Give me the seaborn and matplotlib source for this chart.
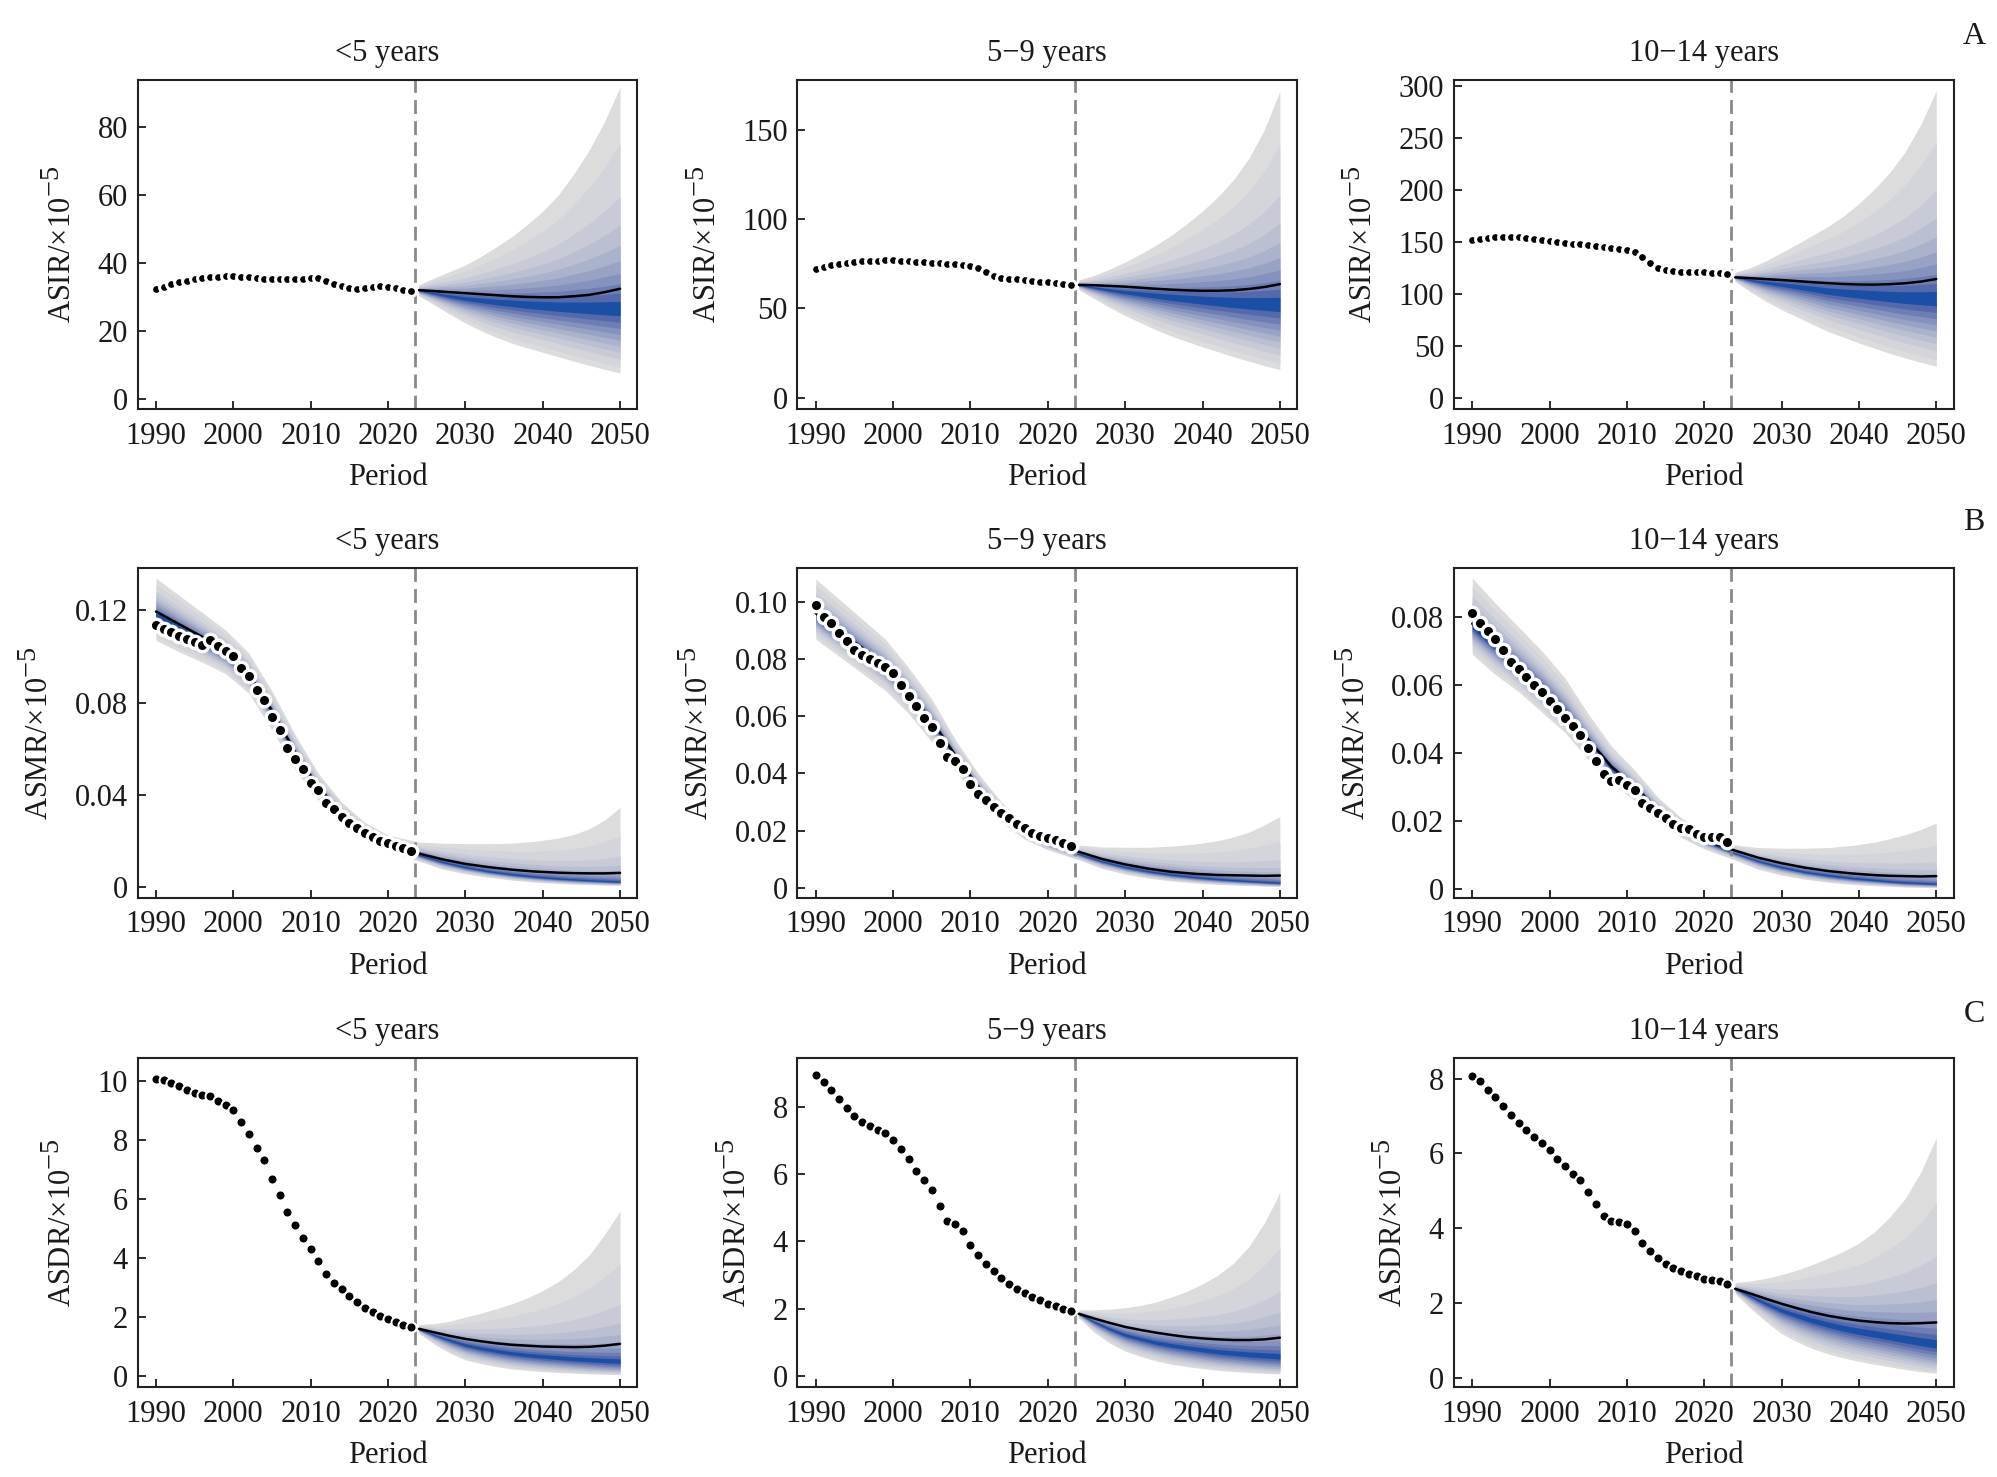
import numpy as np
import pandas as pd
import matplotlib
matplotlib.use("Agg")
import matplotlib.pyplot as plt
import seaborn as sns

try:
    import matplotlib._mathtext as _mt
    _mt.SHRINK_FACTOR = 0.93
except Exception:
    pass

# ---------------- data ----------------
hist_years = list(range(1990, 2024))
fc_years = [2024, 2026, 2028, 2030, 2032, 2034, 2036, 2038, 2040, 2042, 2044, 2046, 2048, 2050]
b_years = [1990, 1993, 1996, 1999, 2002, 2005, 2008, 2011, 2014, 2017, 2020,
           2024, 2027, 2030, 2033, 2036, 2039, 2042, 2044, 2046, 2048, 2050]

age_groups = ["<5 years", "5\u22129 years", "10\u221214 years"]
row_letters = ["A", "B", "C"]
row_measures = ["ASIR", "ASMR", "ASDR"]

# Row A: ASIR
asir_hist_u5 = [32.1, 32.9, 33.6, 34.2, 34.7, 35.1, 35.4, 35.7, 35.9, 36.0, 36.1, 35.9, 35.7, 35.5,
                35.3, 35.2, 35.1, 35.1, 35.2, 35.3, 35.4, 35.6, 34.7, 33.6, 33.0, 32.5, 32.2, 32.6,
                32.9, 33.0, 32.8, 32.4, 32.0, 31.7]
asir_hist_5_9 = [72.0, 73.2, 74.1, 74.8, 75.4, 75.9, 76.3, 76.6, 76.8, 76.9, 77.0, 76.8, 76.5, 76.2,
                 75.9, 75.6, 75.3, 75.0, 74.7, 74.3, 73.8, 72.8, 70.6, 68.4, 67.2, 66.6, 66.2, 65.8,
                 65.4, 65.0, 64.6, 64.1, 63.7, 63.2]
asir_hist_10_14 = [152.0, 153.0, 154.0, 154.6, 155.0, 155.0, 154.5, 153.8, 153.0, 152.0, 151.0, 150.0,
                   149.2, 148.5, 147.8, 147.0, 146.3, 145.5, 144.7, 143.8, 142.5, 140.2, 136.0, 130.0,
                   125.5, 123.0, 122.0, 121.5, 121.2, 121.0, 120.8, 120.5, 120.2, 119.5]

asir_mean_u5 = [31.9, 31.6, 31.3, 31.0, 30.7, 30.4, 30.1, 29.9, 29.8, 29.8, 30.1, 30.5, 31.3, 32.3]
asir_med_u5 = [31.8, 30.9, 30.1, 29.4, 28.9, 28.4, 28.0, 27.6, 27.3, 27.0, 26.8, 26.6, 26.5, 26.4]
asir_hi_u5 = [33.5, 35.5, 37.4, 39.3, 41.8, 44.6, 47.6, 51.2, 55.1, 59.8, 66.0, 73.0, 81.5, 91.6]
asir_lo_u5 = [30.2, 27.5, 24.8, 22.2, 20.0, 18.0, 16.3, 14.9, 13.6, 12.3, 11.0, 9.8, 8.6, 7.5]

asir_mean_5_9 = [63.2, 63.0, 62.6, 62.2, 61.6, 61.0, 60.5, 60.1, 59.9, 59.9, 60.2, 60.9, 62.0, 63.6]
asir_med_5_9 = [63.2, 61.7, 60.3, 59.1, 58.1, 57.1, 56.2, 55.4, 54.6, 53.9, 53.3, 52.8, 52.4, 52.1]
asir_hi_5_9 = [66.0, 68.5, 72.0, 76.0, 80.5, 85.5, 91.0, 97.5, 104.5, 112.5, 122.0, 134.0, 150.0, 171.6]
asir_lo_5_9 = [60.5, 55.5, 50.5, 46.0, 42.0, 38.0, 34.5, 31.5, 28.5, 25.8, 23.0, 20.5, 18.0, 15.8]

asir_mean_10_14 = [116.1, 115.3, 114.4, 113.5, 112.5, 111.4, 110.5, 109.7, 109.2, 109.1, 109.5, 110.4,
                   112.0, 114.5]
asir_med_10_14 = [116.4, 113.5, 111.0, 109.1, 107.0, 105.0, 102.8, 101.3, 100.0, 98.7, 97.5, 96.5,
                  95.8, 95.3]
asir_hi_10_14 = [121.0, 125.5, 132.0, 140.0, 148.0, 156.5, 165.0, 175.0, 187.0, 201.0, 217.0, 237.0,
                 263.0, 295.6]
asir_lo_10_14 = [112.0, 102.0, 93.0, 85.0, 78.0, 71.0, 64.0, 58.5, 53.0, 48.0, 43.0, 38.5, 34.5, 30.7]

# Row B: ASMR
asmr_hist_u5 = [0.1135, 0.1120, 0.1106, 0.1091, 0.1077, 0.1064, 0.1048, 0.1071, 0.1045, 0.1023, 0.1004,
                0.0950, 0.0914, 0.0856, 0.0810, 0.0737, 0.0679, 0.0602, 0.0554, 0.0511, 0.0453, 0.0421,
                0.0366, 0.0337, 0.0305, 0.0279, 0.0254, 0.0232, 0.0215, 0.0200, 0.0189, 0.0177, 0.0167,
                0.0155]
asmr_hist_5_9 = [0.0988, 0.0947, 0.0927, 0.0892, 0.0863, 0.0832, 0.0813, 0.0801, 0.0787, 0.0772, 0.0750,
                 0.0711, 0.0672, 0.0635, 0.0594, 0.0561, 0.0506, 0.0457, 0.0445, 0.0415, 0.0363, 0.0330,
                 0.0307, 0.0284, 0.0261, 0.0243, 0.0223, 0.0208, 0.0193, 0.0181, 0.0173, 0.0167, 0.0156,
                 0.0146]
asmr_hist_10_14 = [0.0811, 0.0783, 0.0759, 0.0734, 0.0703, 0.0667, 0.0646, 0.0624, 0.0601, 0.0579, 0.0552,
                   0.0529, 0.0503, 0.0479, 0.0454, 0.0415, 0.0375, 0.0339, 0.0319, 0.0321, 0.0307, 0.0290,
                   0.0253, 0.0238, 0.0223, 0.0208, 0.0192, 0.0179, 0.0176, 0.0161, 0.0154, 0.0152, 0.0152,
                   0.0138]

asmr_mean_u5 = [0.1195, 0.1140, 0.1085, 0.1020, 0.0925, 0.0765, 0.0585, 0.0432, 0.0322, 0.0242, 0.0190,
                0.0145, 0.0120, 0.0100, 0.0086, 0.0075, 0.0067, 0.0062, 0.0060, 0.0059, 0.0059, 0.0061]
asmr_med_u5 = [0.1180, 0.1125, 0.1070, 0.1008, 0.0915, 0.0755, 0.0578, 0.0428, 0.0318, 0.0238, 0.0186,
               0.0138, 0.0108, 0.0085, 0.0067, 0.0054, 0.0044, 0.0036, 0.0032, 0.0028, 0.0025, 0.0022]
asmr_hi_u5 = [0.1340, 0.1265, 0.1190, 0.1115, 0.1015, 0.0850, 0.0660, 0.0492, 0.0368, 0.0280, 0.0225,
              0.0195, 0.0190, 0.0188, 0.0188, 0.0190, 0.0198, 0.0212, 0.0228, 0.0252, 0.0290, 0.0345]
asmr_lo_u5 = [0.1070, 0.1020, 0.0975, 0.0925, 0.0840, 0.0680, 0.0510, 0.0375, 0.0278, 0.0205, 0.0158,
              0.0112, 0.0078, 0.0057, 0.0042, 0.0030, 0.0021, 0.0015, 0.0012, 0.0010, 0.0008, 0.0007]

asmr_mean_5_9 = [0.0960, 0.0900, 0.0840, 0.0775, 0.0685, 0.0585, 0.0465, 0.0355, 0.0265, 0.0200, 0.0160,
                 0.0126, 0.0101, 0.0082, 0.0067, 0.0056, 0.0049, 0.0045, 0.0044, 0.0043, 0.0042, 0.0043]
asmr_med_5_9 = [0.0950, 0.0890, 0.0830, 0.0768, 0.0680, 0.0580, 0.0460, 0.0350, 0.0260, 0.0195, 0.0155,
                0.0118, 0.0092, 0.0072, 0.0057, 0.0046, 0.0037, 0.0030, 0.0026, 0.0023, 0.0020, 0.0017]
asmr_hi_5_9 = [0.1080, 0.1010, 0.0940, 0.0870, 0.0770, 0.0660, 0.0520, 0.0400, 0.0300, 0.0225, 0.0180,
               0.0150, 0.0143, 0.0142, 0.0142, 0.0146, 0.0153, 0.0165, 0.0178, 0.0195, 0.0220, 0.0249]
asmr_lo_5_9 = [0.0870, 0.0810, 0.0750, 0.0690, 0.0610, 0.0510, 0.0410, 0.0310, 0.0230, 0.0170, 0.0133,
               0.0098, 0.0068, 0.0048, 0.0034, 0.0024, 0.0017, 0.0012, 0.0010, 0.0008, 0.0006, 0.0005]

asmr_mean_10_14 = [0.0780, 0.0715, 0.0655, 0.0595, 0.0525, 0.0440, 0.0360, 0.0302, 0.0233, 0.0180, 0.0143,
                   0.0113, 0.0092, 0.0076, 0.0063, 0.0053, 0.0046, 0.0041, 0.0039, 0.0038, 0.0037, 0.0038]
asmr_med_10_14 = [0.0770, 0.0710, 0.0650, 0.0590, 0.0520, 0.0435, 0.0355, 0.0298, 0.0230, 0.0178, 0.0140,
                  0.0105, 0.0082, 0.0064, 0.0050, 0.0040, 0.0032, 0.0026, 0.0022, 0.0019, 0.0017, 0.0015]
asmr_hi_10_14 = [0.0914, 0.0840, 0.0770, 0.0700, 0.0620, 0.0515, 0.0420, 0.0350, 0.0270, 0.0210, 0.0165,
                 0.0130, 0.0122, 0.0120, 0.0120, 0.0122, 0.0128, 0.0138, 0.0148, 0.0160, 0.0175, 0.0194]
asmr_lo_10_14 = [0.0690, 0.0630, 0.0580, 0.0520, 0.0460, 0.0380, 0.0310, 0.0260, 0.0200, 0.0152, 0.0118,
                 0.0085, 0.0058, 0.0041, 0.0029, 0.0020, 0.0014, 0.0010, 0.0008, 0.0006, 0.0005, 0.0004]

# Row C: ASDR
asdr_hist_u5 = [10.09, 10.06, 9.94, 9.83, 9.72, 9.61, 9.53, 9.49, 9.32, 9.19, 9.03, 8.62, 8.20, 7.75,
                7.32, 6.70, 6.15, 5.58, 5.12, 4.70, 4.31, 3.89, 3.46, 3.16, 2.95, 2.73, 2.50, 2.31,
                2.16, 2.02, 1.92, 1.83, 1.74, 1.68]
asdr_hist_5_9 = [8.95, 8.74, 8.50, 8.24, 7.97, 7.72, 7.54, 7.44, 7.32, 7.23, 7.01, 6.74, 6.44, 6.09,
                 5.82, 5.54, 5.06, 4.62, 4.52, 4.32, 3.90, 3.60, 3.33, 3.12, 2.91, 2.74, 2.59, 2.47,
                 2.35, 2.25, 2.15, 2.07, 2.00, 1.93]
asdr_hist_10_14 = [8.08, 7.93, 7.71, 7.50, 7.28, 7.02, 6.82, 6.64, 6.45, 6.27, 6.08, 5.86, 5.67, 5.46,
                   5.28, 4.96, 4.64, 4.33, 4.18, 4.16, 4.11, 3.92, 3.61, 3.40, 3.21, 3.05, 2.94, 2.85,
                   2.78, 2.71, 2.65, 2.62, 2.58, 2.51]

asdr_mean_u5 = [1.60, 1.48, 1.36, 1.26, 1.18, 1.11, 1.06, 1.03, 1.00, 0.99, 0.98, 0.99, 1.03, 1.09]
asdr_med_u5 = [1.59, 1.39, 1.21, 1.05, 0.94, 0.85, 0.77, 0.71, 0.66, 0.62, 0.58, 0.55, 0.52, 0.50]
asdr_hi_u5 = [1.75, 1.78, 1.86, 2.00, 2.13, 2.28, 2.45, 2.65, 2.90, 3.20, 3.60, 4.10, 4.80, 5.60]
asdr_lo_u5 = [1.45, 1.08, 0.78, 0.55, 0.42, 0.32, 0.24, 0.19, 0.15, 0.12, 0.095, 0.075, 0.058, 0.045]

asdr_mean_5_9 = [1.85, 1.71, 1.58, 1.46, 1.37, 1.29, 1.22, 1.16, 1.12, 1.09, 1.07, 1.07, 1.09, 1.14]
asdr_med_5_9 = [1.85, 1.61, 1.40, 1.22, 1.10, 0.99, 0.91, 0.84, 0.78, 0.72, 0.68, 0.64, 0.61, 0.58]
asdr_hi_5_9 = [1.97, 1.97, 1.99, 2.03, 2.10, 2.20, 2.35, 2.52, 2.74, 3.00, 3.35, 3.85, 4.55, 5.45]
asdr_lo_5_9 = [1.73, 1.30, 0.98, 0.74, 0.58, 0.45, 0.35, 0.28, 0.22, 0.17, 0.135, 0.105, 0.08, 0.062]

asdr_mean_10_14 = [2.38, 2.25, 2.11, 1.98, 1.86, 1.75, 1.66, 1.59, 1.53, 1.49, 1.46, 1.45, 1.46, 1.48]
asdr_med_10_14 = [2.38, 2.18, 1.98, 1.80, 1.66, 1.53, 1.42, 1.32, 1.24, 1.17, 1.10, 1.03, 0.96, 0.90]
asdr_hi_10_14 = [2.55, 2.59, 2.66, 2.76, 2.88, 3.03, 3.20, 3.38, 3.60, 3.90, 4.30, 4.80, 5.50, 6.42]
asdr_lo_10_14 = [2.25, 1.85, 1.50, 1.18, 0.96, 0.78, 0.64, 0.53, 0.44, 0.36, 0.29, 0.22, 0.165, 0.12]

# axis ticks / labels
yticks = [
    [[0, 20, 40, 60, 80], [0, 50, 100, 150], [0, 50, 100, 150, 200, 250, 300]],
    [[0, 0.04, 0.08, 0.12], [0, 0.02, 0.04, 0.06, 0.08, 0.10], [0, 0.02, 0.04, 0.06, 0.08]],
    [[0, 2, 4, 6, 8, 10], [0, 2, 4, 6, 8], [0, 2, 4, 6, 8]],
]
yticklabels = [
    [["0", "20", "40", "60", "80"], ["0", "50", "100", "150"],
     ["0", "50", "100", "150", "200", "250", "300"]],
    [["0", "0.04", "0.08", "0.12"], ["0", "0.02", "0.04", "0.06", "0.08", "0.10"],
     ["0", "0.02", "0.04", "0.06", "0.08"]],
    [["0", "2", "4", "6", "8", "10"], ["0", "2", "4", "6", "8"], ["0", "2", "4", "6", "8"]],
]
ylims = [
    [(-3.2, 93.7), (-6.5, 177.8), (-10.9, 305.8)],
    [(-0.0046, 0.1383), (-0.0034, 0.1118), (-0.0025, 0.0943)],
    [(-0.39, 10.79), (-0.34, 9.45), (-0.26, 8.55)],
]
xticks = [1990, 2000, 2010, 2020, 2030, 2040, 2050]

panels = [
    [  # row A
        dict(hist=asir_hist_u5, fy=fc_years, mean=asir_mean_u5, med=asir_med_u5, hi=asir_hi_u5, lo=asir_lo_u5),
        dict(hist=asir_hist_5_9, fy=fc_years, mean=asir_mean_5_9, med=asir_med_5_9, hi=asir_hi_5_9, lo=asir_lo_5_9),
        dict(hist=asir_hist_10_14, fy=fc_years, mean=asir_mean_10_14, med=asir_med_10_14, hi=asir_hi_10_14, lo=asir_lo_10_14),
    ],
    [  # row B
        dict(hist=asmr_hist_u5, fy=b_years, mean=asmr_mean_u5, med=asmr_med_u5, hi=asmr_hi_u5, lo=asmr_lo_u5),
        dict(hist=asmr_hist_5_9, fy=b_years, mean=asmr_mean_5_9, med=asmr_med_5_9, hi=asmr_hi_5_9, lo=asmr_lo_5_9),
        dict(hist=asmr_hist_10_14, fy=b_years, mean=asmr_mean_10_14, med=asmr_med_10_14, hi=asmr_hi_10_14, lo=asmr_lo_10_14),
    ],
    [  # row C
        dict(hist=asdr_hist_u5, fy=fc_years, mean=asdr_mean_u5, med=asdr_med_u5, hi=asdr_hi_u5, lo=asdr_lo_u5),
        dict(hist=asdr_hist_5_9, fy=fc_years, mean=asdr_mean_5_9, med=asdr_med_5_9, hi=asdr_hi_5_9, lo=asdr_lo_5_9),
        dict(hist=asdr_hist_10_14, fy=fc_years, mean=asdr_mean_10_14, med=asdr_med_10_14, hi=asdr_hi_10_14, lo=asdr_lo_10_14),
    ],
]

# ---------------- style ----------------
sns.set_theme(style="ticks")
plt.rcParams["font.family"] = ["Liberation Serif", "DejaVu Sans"]
plt.rcParams["mathtext.fontset"] = "custom"
plt.rcParams["mathtext.rm"] = "Liberation Serif"
plt.rcParams["mathtext.it"] = "Liberation Serif:italic"
plt.rcParams["axes.unicode_minus"] = True

FS = 22
TXT = "#1a1a1a"
# fan quantile levels (two-sided): 95%, 90%, 80%, ... 10% intervals
Z_LEVELS = [1.96, 1.645, 1.2816, 1.0364, 0.8416, 0.6745, 0.5244, 0.3853, 0.2533, 0.1257]
FAN_COLORS = ["#dcdcdc", "#d3d5db", "#c8cbd7", "#bac0d2", "#aab2cc",
              "#98a2c5", "#8592be", "#6e7eb5", "#5469ac", "#1b4fa6"]
MARKER = {0: (50, 2.2), 1: (80, 2.4), 2: (52, 1.4)}

fig = plt.figure(figsize=(19.97, 14.77), dpi=100)
lefts = [0.0689, 0.3993, 0.7280]
bottoms = [0.7228, 0.3923, 0.0606]
W, H = 0.2503, 0.2230

for r in range(3):
    for c in range(3):
        p = panels[r][c]
        ax = fig.add_axes([lefts[c], bottoms[r], W, H])
        fy = np.array(p["fy"], dtype=float)
        med = np.array(p["med"])
        hi = np.array(p["hi"])
        lo = np.array(p["lo"])
        for z, col in zip(Z_LEVELS, FAN_COLORS):
            f = z / 1.96
            up = med * (hi / med) ** f
            dn = med * (lo / med) ** f
            ax.fill_between(fy, dn, up, color=col, linewidth=0, zorder=1)
        ax.axvline(2023.5, color="#8a8a8a", lw=2.0, ls=(0, (5, 2.6)), zorder=2)
        df_mean = pd.DataFrame({"year": fy, "value": p["mean"]})
        sns.lineplot(data=df_mean, x="year", y="value", ax=ax, color="black", lw=1.8,
                     estimator=None, zorder=3)
        df_hist = pd.DataFrame({"year": hist_years, "value": p["hist"]})
        s, ew = MARKER[r]
        sns.scatterplot(data=df_hist, x="year", y="value", ax=ax, s=s, color="black",
                        edgecolor="white", linewidth=ew, legend=False, zorder=5)

        ax.set_xlim(1987.62, 2052.25)
        ax.set_ylim(*ylims[r][c])
        ax.set_xticks(xticks)
        ax.set_xticklabels([str(x) for x in xticks])
        ax.set_yticks(yticks[r][c])
        ax.set_yticklabels(yticklabels[r][c])
        ax.tick_params(axis="both", direction="in", length=6, width=1.3, labelsize=FS,
                       colors=TXT, top=False, right=False)
        ax.tick_params(axis="y", pad=7)
        ax.tick_params(axis="x", pad=9)
        for sp in ax.spines.values():
            sp.set_linewidth(1.5)
            sp.set_color("#222222")
            sp.set_visible(True)
        ax.set_title(age_groups[c], fontsize=FS, color=TXT, pad=14)
        ax.set_xlabel("Period", fontsize=FS, color=TXT, labelpad=9)
        ax.set_ylabel(row_measures[r] + "/\u00d710$^{\\mathregular{-5}}$", fontsize=FS,
                      color=TXT, labelpad=14)
        ax.set_facecolor("white")

letter_y = [1 - 36 / 1477, 1 - 523 / 1477, 1 - 1015 / 1477]
for r in range(3):
    fig.text(0.9885, letter_y[r], row_letters[r], fontsize=FS + 1, ha="center",
             va="center", color=TXT)

fig.savefig("out.png", dpi=100, facecolor="white")
